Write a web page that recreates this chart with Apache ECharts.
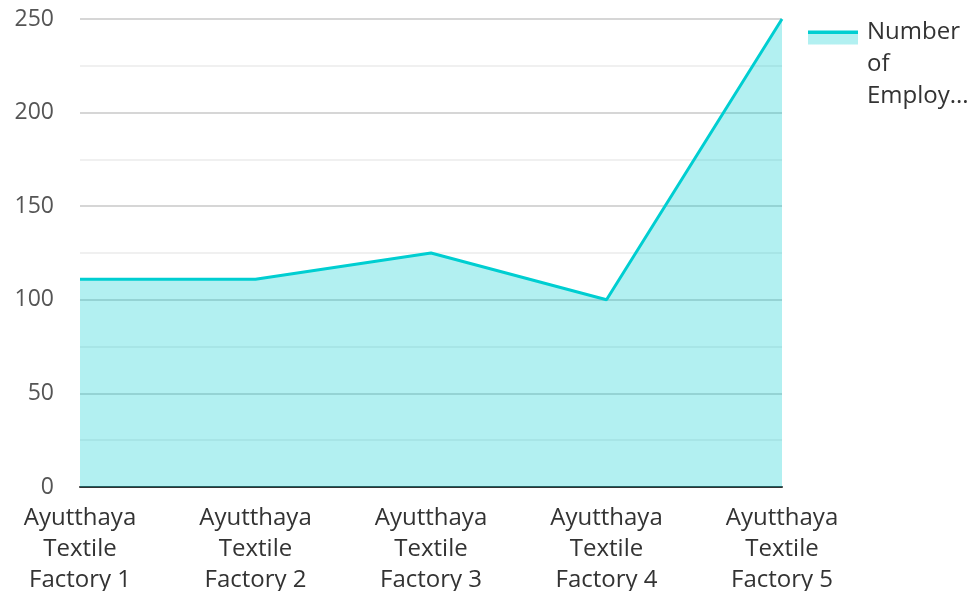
<!DOCTYPE html>
<html><head><meta charset="utf-8">
<script src="https://cdn.jsdelivr.net/npm/echarts@6/dist/echarts.min.js"></script>
<style>html,body{margin:0;padding:0;background:#fff}#c{width:972px;height:591px}</style>
</head><body><div id="c"></div>
<script>
const categories = ["Ayutthaya Textile Factory 1","Ayutthaya Textile Factory 2","Ayutthaya Textile Factory 3","Ayutthaya Textile Factory 4","Ayutthaya Textile Factory 5"];
const employees = [111, 111, 125, 100, 250];
const seriesName = "Number of Employees";
const legendLines = ["Number", "of", "Employ..."];
const yTicks = [0, 50, 100, 150, 200, 250];

const chart = echarts.init(document.getElementById('c'));
const font = '"Open Sans", "Noto Sans", sans-serif';
chart.setOption({
  animation: false,
  textStyle: {fontFamily: font},
  grid: {left: 80, right: 190, top: 19, bottom: 104, containLabel: false, outerBoundsMode: 'none'},
  legend: {
    left: 808, top: -22.5, orient: 'vertical', itemWidth: 50, itemHeight: 14, padding: 0,
    icon: 'rect',
    data: [{name: seriesName}],
    itemStyle: {
      color: {type: 'linear', x: 0, y: 0, x2: 0, y2: 1, colorStops: [
        {offset: 0, color: '#00CED1'}, {offset: 0.22, color: '#00CED1'},
        {offset: 0.22, color: '#B2F0F1'}, {offset: 1, color: '#B2F0F1'}]},
      borderWidth: 0
    },
    formatter: () => '{s| }\n' + legendLines.map(l => '{a|' + l + '}').join('\n'),
    textStyle: {fontSize: 24, color: '#333', fontFamily: font,
      rich: {
        s: {fontSize: 24, lineHeight: 54, color: 'rgba(0,0,0,0)'},
        a: {fontSize: 24, lineHeight: 32, color: '#333', fontFamily: font, padding: [0, 0, 0, 4]}
      }}
  },
  xAxis: {
    type: 'category', data: categories, boundaryGap: false,
    axisLine: {lineStyle: {color: '#333', width: 2}},
    axisTick: {show: false},
    axisLabel: {fontSize: 24, color: '#333', lineHeight: 31, margin: 16, interval: 0,
      formatter: v => v.replace('Ayutthaya Textile ', 'Ayutthaya\nTextile\n')}
  },
  yAxis: {
    type: 'value', min: yTicks[0], max: yTicks[yTicks.length-1], interval: 50,
    axisLabel: {fontSize: 23, color: '#555', margin: 26},
    axisLine: {show: false}, axisTick: {show: false},
    splitLine: {lineStyle: {color: '#c8c8c8', width: 1.5}},
    minorTick: {show: false, splitNumber: 2},
    minorSplitLine: {show: true, lineStyle: {color: '#ececec', width: 1.5}}
  },
  series: [{
    name: seriesName, type: 'line', data: employees, symbol: 'none',
    lineStyle: {color: '#00CED1', width: 3},
    itemStyle: {color: '#00CED1'},
    areaStyle: {color: '#00CED1', opacity: 0.3}
  }]
});
</script></body></html>
